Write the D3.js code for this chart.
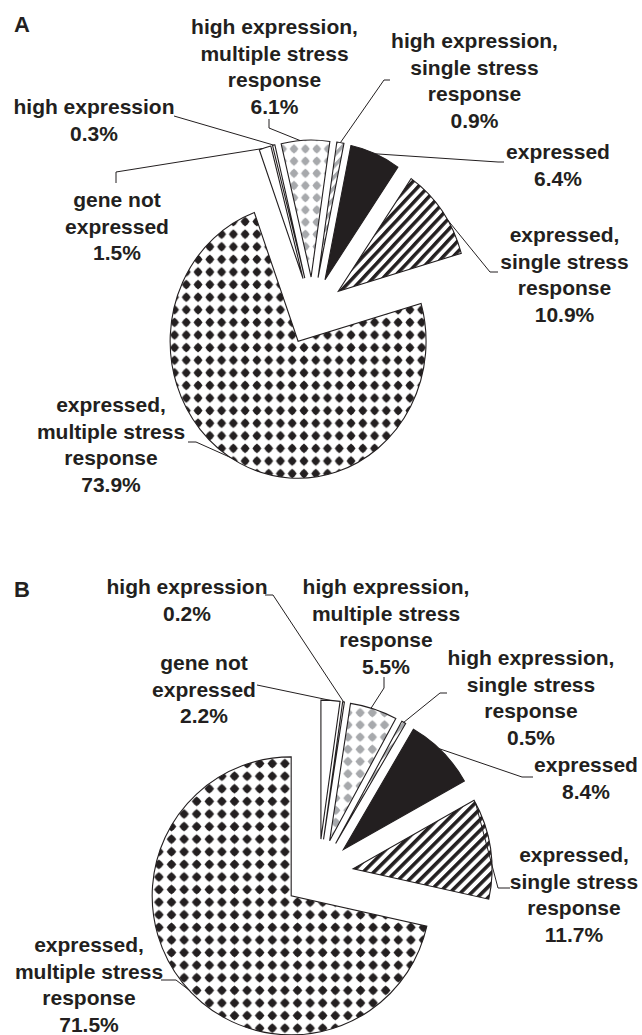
<!DOCTYPE html>
<html>
<head>
<meta charset="utf-8">
<script src="https://cdn.jsdelivr.net/npm/d3@7"></script>
<style>
  html, body { margin: 0; padding: 0; background: #fff; }
  svg { display: block; }
  text { font-family: "Liberation Sans", Arial, Helvetica, sans-serif; font-weight: bold; fill: #231f20; }
</style>
</head>
<body>
<svg id="chart" width="642" height="1035"></svg>
<script>
// ---------- data ----------
const categories = [
  "gene not expressed",
  "high expression",
  "high expression, multiple stress response",
  "high expression, single stress response",
  "expressed",
  "expressed, single stress response",
  "expressed, multiple stress response"
];
const labelLines = [
  ["gene not", "expressed"],
  ["high expression"],
  ["high expression,", "multiple stress", "response"],
  ["high expression,", "single stress", "response"],
  ["expressed"],
  ["expressed,", "single stress", "response"],
  ["expressed,", "multiple stress", "response"]
];
const valuesA = [1.5, 0.3, 6.1, 0.9, 6.4, 10.9, 73.9];
const valuesB = [2.2, 0.2, 5.5, 0.5, 8.4, 11.7, 71.5];
const panelLetters = ["A", "B"];

// ---------- layout (positions / styles) ----------
const fills = ["#ffffff", "#ffffff", "url(#greyDiamond)", "url(#greyStripe)", "#231f20", "url(#blackStripe)", "url(#blackDiamond)"];
const panels = [
  { letter: panelLetters[0], values: valuesA, cx: 312.5, cy: 311, r: 137, sx: 0.934, startDeg: -20, explode: 34, lx: 14, ly: 32,
    labels: [
      { x: 117,   y: 207, f: 0.3,  pts: [[116, 183], [116, 172]] },
      { x: 94,    y: 114, f: 0.5,  pts: [[174, 116]] },
      { x: 274.5, y: 34,  f: 0.39, pts: [[269, 119], [269, 128]] },
      { x: 474.5, y: 48,  f: 0.5,  pts: [[390, 80], [384, 80]] },
      { x: 558,   y: 159, f: 0.5,  pts: [[504, 162], [498, 162]] },
      { x: 564.5, y: 242, f: 0.61, pts: [[498, 272], [490, 272]] },
      { x: 111,   y: 412, f: 0.52, pts: [[188, 442], [196, 442]] }
    ] },
  { letter: panelLetters[1], values: valuesB, cx: 318.5, cy: 874, r: 139, sx: 1, startDeg: 0, explode: 35, lx: 14, ly: 597,
    labels: [
      { x: 204, y: 670, f: 0.5,  pts: [[257, 685]] },
      { x: 187, y: 594, f: 0.5,  pts: [[265, 595], [273, 595]] },
      { x: 386, y: 594, f: 0.44, pts: [[384, 677], [384, 688]] },
      { x: 531, y: 665, f: 0.5,  pts: [[447, 693], [440, 693]] },
      { x: 586, y: 772, f: 0.44, pts: [[533, 777], [522, 777]] },
      { x: 574, y: 862, f: 0.03, pts: [[510, 888], [498, 888]] },
      { x: 89,  y: 952, f: 0.485, pts: [[161, 980], [176, 980]] }
    ] }
];
const lineH = 26.5;
const fontSize = 21;

const svg = d3.select("#chart");
const defs = svg.append("defs");

function diamondPattern(id, color, size) {
  const p = defs.append("pattern").attr("id", id).attr("patternUnits", "userSpaceOnUse")
    .attr("width", size).attr("height", size);
  p.append("rect").attr("width", size).attr("height", size).attr("fill", "#fff");
  const h = size / 2, d = size * 0.38, k = 0.56;
  const path = (x, y) => `M${x},${y - d}L${x + d * k},${y - d * k}L${x + d},${y}L${x + d * k},${y + d * k}L${x},${y + d}L${x - d * k},${y + d * k}L${x - d},${y}L${x - d * k},${y - d * k}Z`;
  p.append("path").attr("d", path(h, h)).attr("fill", color);
}
diamondPattern("blackDiamond", "#231f20", 12.6);
diamondPattern("greyDiamond", "#a7a9ac", 12.2);

function stripePattern(id, color, size, w) {
  const p = defs.append("pattern").attr("id", id).attr("patternUnits", "userSpaceOnUse")
    .attr("width", size).attr("height", size).attr("patternTransform", "rotate(45)");
  p.append("rect").attr("width", size).attr("height", size).attr("fill", "#fff");
  p.append("rect").attr("x", 0).attr("width", w).attr("height", size).attr("fill", color);
}
stripePattern("blackStripe", "#231f20", 7.6, 3.6);
stripePattern("greyStripe", "#a7a9ac", 7.6, 3.6);

panels.forEach(P => {
  const a0 = P.startDeg * Math.PI / 180;
  const pie = d3.pie().sort(null).value(d => d).startAngle(a0).endAngle(a0 + 2 * Math.PI);
  const arcs = pie(P.values);
  const arc = d3.arc().innerRadius(0).outerRadius(P.r);
  const g = svg.append("g").attr("transform", `translate(${P.cx},${P.cy}) scale(${P.sx},1)`);

  const off = d => {
    const m = (d.startAngle + d.endAngle) / 2;
    return [P.explode * Math.sin(m), -P.explode * Math.cos(m)];
  };

  g.selectAll("path.slice").data(arcs).join("path")
    .attr("class", "slice")
    .attr("transform", d => { const o = off(d); return `translate(${o[0]},${o[1]})`; })
    .attr("d", arc)
    .attr("fill", (d, i) => fills[i])
    .attr("stroke", "#231f20")
    .attr("stroke-width", 1.1)
    .attr("vector-effect", "non-scaling-stroke")
    .attr("stroke-linejoin", "miter");

  svg.append("text").attr("x", P.lx).attr("y", P.ly).attr("font-size", 22).text(P.letter);

  P.labels.forEach((L, i) => {
    const d = arcs[i];
    const o = off(d);
    const a = d.startAngle + L.f * (d.endAngle - d.startAngle);
    const end = [P.cx + P.sx * (o[0] + P.r * Math.sin(a)), P.cy + o[1] - P.r * Math.cos(a)];
    const pts = L.pts.concat([end]);
    svg.append("path")
      .attr("d", d3.line()(pts))
      .attr("fill", "none").attr("stroke", "#231f20").attr("stroke-width", 1);

    const lines = labelLines[i].concat([d3.format(".1f")(P.values[i]) + "%"]);
    const t = svg.append("text").attr("text-anchor", "middle").attr("font-size", fontSize);
    lines.forEach((s, k) => {
      t.append("tspan").attr("x", L.x).attr("y", L.y + k * lineH).text(s);
    });
  });
});
</script>
</body>
</html>
